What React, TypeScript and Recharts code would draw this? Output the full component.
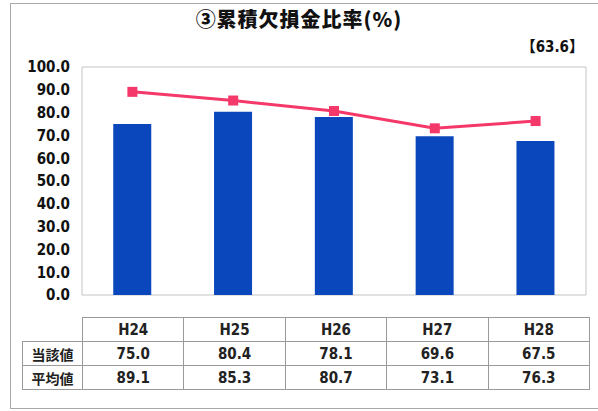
import React from "react";
import { Bar, CartesianGrid, ComposedChart, Line, XAxis, YAxis } from "recharts";

const YEARS = ["H24", "H25", "H26", "H27", "H28"];
const CURRENT = [75.0, 80.4, 78.1, 69.6, 67.5];
const AVERAGE = [89.1, 85.3, 80.7, 73.1, 76.3];
const Y_TICKS = [0, 10, 20, 30, 40, 50, 60, 70, 80, 90, 100];

const BAR_COLOR = "#0A47BD";
const LINE_COLOR = "#F5386A";
const FONT = '"DejaVu Sans Condensed", "Noto Sans CJK JP", sans-serif';
const CJK = '"Noto Sans CJK JP", sans-serif';

const data = YEARS.map((year, i) => ({ year, current: CURRENT[i], average: AVERAGE[i] }));

function SquareDot(props: any) {
  const { cx, cy } = props;
  if (cx == null || cy == null) return null;
  return <rect x={cx - 5} y={cy - 5} width={10} height={10} fill={LINE_COLOR} />;
}

const cell: React.CSSProperties = {
  border: "1px solid #9a9a9a",
  textAlign: "center",
  fontWeight: 700,
  fontSize: 15,
  fontFamily: FONT,
  color: "#222",
  padding: 0,
  height: 23,
};

export default function App() {
  return (
    <div
      style={{
        position: "absolute",
        left: 0,
        top: 0,
        width: 598,
        height: 411,
        background: "#fff",
        overflow: "hidden",
      }}
    >
      <div
        style={{
          position: "absolute",
          left: 10,
          top: 3,
          width: 600,
          height: 404,
          border: "1px solid #aaa",
        }}
      />
      <div
        style={{
          position: "absolute",
          left: 0,
          top: 4,
          width: 598,
          textAlign: "center",
          fontFamily: CJK,
          fontWeight: 900,
          fontSize: 20,
          letterSpacing: 1,
          color: "#111",
        }}
      >
        ③累積欠損金比率(%)
      </div>
      <div
        style={{
          position: "absolute",
          right: 14,
          top: 35,
          fontFamily: FONT,
          fontWeight: 700,
          fontSize: 15,
          color: "#111",
        }}
      >
        【63.6】
      </div>
      <div style={{ position: "absolute", left: 0, top: 0 }}>
        <ComposedChart
          width={598}
          height={312}
          data={data}
          barCategoryGap="31%"
          margin={{ top: 67, right: 11, bottom: 17, left: 0 }}
        >
          <CartesianGrid horizontal vertical={false} stroke="#c4c4c4" />
          <XAxis dataKey="year" hide />
          <YAxis
            yAxisId="left"
            domain={[0, 100]}
            ticks={Y_TICKS}
            width={82}
            interval={0}
            tickLine={false}
            tickMargin={6}
            axisLine={{ stroke: "#c4c4c4" }}
            tickFormatter={(v: number) => v.toFixed(1)}
            tick={{ fill: "#111", fontSize: 15, fontWeight: 700, fontFamily: FONT }}
          />
          <YAxis
            yAxisId="right"
            orientation="right"
            domain={[0, 100]}
            width={1}
            tick={false}
            tickLine={false}
            axisLine={{ stroke: "#c4c4c4" }}
          />
          <Bar yAxisId="left" dataKey="current" fill={BAR_COLOR} isAnimationActive={false} />
          <Line
            yAxisId="left"
            dataKey="average"
            stroke={LINE_COLOR}
            strokeWidth={3}
            dot={<SquareDot />}
            activeDot={false}
            isAnimationActive={false}
          />
        </ComposedChart>
      </div>
      <table
        style={{
          position: "absolute",
          left: 22,
          top: 317,
          borderCollapse: "collapse",
          tableLayout: "fixed",
        }}
      >
        <colgroup>
          <col style={{ width: 60 }} />
          {YEARS.map((y) => (
            <col key={y} style={{ width: 101.4 }} />
          ))}
        </colgroup>
        <tbody>
          <tr>
            <td style={{ ...cell, border: "none", borderRight: "1px solid #9a9a9a" }} />
            {YEARS.map((y) => (
              <td key={y} style={cell}>
                {y}
              </td>
            ))}
          </tr>
          <tr>
            <td style={{ ...cell, fontFamily: CJK, fontSize: 14 }}>当該値</td>
            {CURRENT.map((v, i) => (
              <td key={i} style={cell}>
                {v.toFixed(1)}
              </td>
            ))}
          </tr>
          <tr>
            <td style={{ ...cell, fontFamily: CJK, fontSize: 14 }}>平均値</td>
            {AVERAGE.map((v, i) => (
              <td key={i} style={cell}>
                {v.toFixed(1)}
              </td>
            ))}
          </tr>
        </tbody>
      </table>
    </div>
  );
}
